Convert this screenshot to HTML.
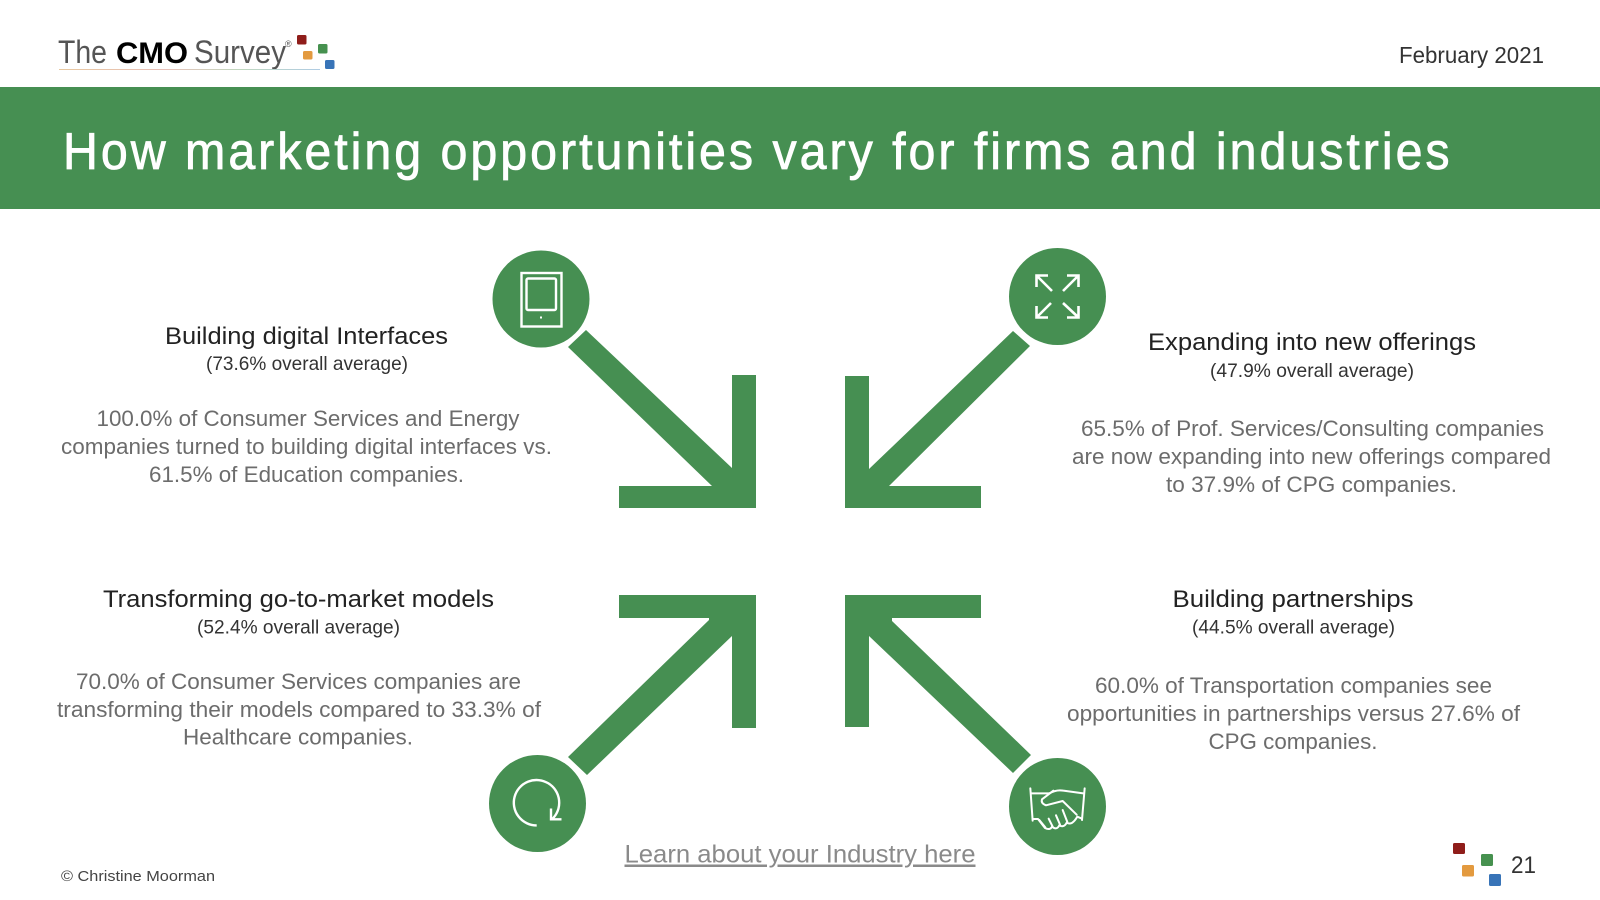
<!DOCTYPE html>
<html lang="en"><head><meta charset="utf-8"><title>How marketing opportunities vary</title>
<style>
html,body{margin:0;padding:0;background:#fff;width:1600px;height:900px;overflow:hidden}
svg{display:block}
text{font-family:"Liberation Sans",sans-serif}
.h{font-size:24px;fill:#222}
.s{font-size:19.5px;fill:#333}
.b{font-size:22px;fill:#6c6c6c}
</style></head><body>
<svg width="1600" height="900" viewBox="0 0 1600 900" xmlns="http://www.w3.org/2000/svg">
<defs><linearGradient id="g" x1="0" x2="1" y1="0" y2="0"><stop offset="0" stop-color="#e8c8a0"/><stop offset=".4" stop-color="#e8c0b8"/><stop offset=".7" stop-color="#c0d8c0"/><stop offset="1" stop-color="#b0cce4"/></linearGradient></defs>
<rect width="1600" height="900" fill="#fff"/>
<!-- logo -->
<text x="58" y="63" font-size="32" fill="#555" textLength="49" lengthAdjust="spacingAndGlyphs">The</text>
<text x="116" y="63" font-size="30" font-weight="700" fill="#000" textLength="72" lengthAdjust="spacingAndGlyphs">CMO</text>
<text x="194" y="63" font-size="32" fill="#555" textLength="92" lengthAdjust="spacingAndGlyphs">Survey</text>
<text x="285" y="47" font-size="9" fill="#555">®</text>
<rect x="59" y="69" width="261" height="1" fill="url(#g)"/>
<rect x="297" y="35" width="9.5" height="9.5" rx="1.5" fill="#8f1d1a"/>
<rect x="318" y="44" width="9.5" height="9.5" rx="1.5" fill="#46914f"/>
<rect x="303" y="51" width="9.5" height="8.5" rx="1.5" fill="#e39a3f"/>
<rect x="325" y="60" width="9.5" height="9" rx="1.5" fill="#3874b8"/>
<text x="1399" y="63" font-size="23" fill="#333" textLength="145" lengthAdjust="spacingAndGlyphs">February 2021</text>
<!-- band -->
<rect x="0" y="87" width="1600" height="122" fill="#468f52"/>
<g transform="translate(63,169) scale(.93,1)"><text x="0" y="0" font-size="52" fill="#fff" stroke="#fff" stroke-width=".8" textLength="1491" lengthAdjust="spacing">How marketing opportunities vary for firms and industries</text></g>
<!-- arrows -->
<g fill="#468f52">
<path d="M586 330L568 347L712 486H619V508H756V375H732V468Z"/>
<path d="M1013 331L1030 346L889 486H981V508H845V376H869V469Z"/>
<path d="M568 757L587 775L732 636V728H756V595H619V618H709V620Z"/>
<path d="M1013 773L1031 755L892 621V618H981V595H845V727H869V636Z"/>
<circle cx="541" cy="299" r="48.5"/>
<circle cx="1057.5" cy="296.5" r="48.5"/>
<circle cx="537.5" cy="803.5" r="48.5"/>
<circle cx="1057.5" cy="806.5" r="48.5"/>
</g>
<!-- tablet -->
<g fill="none" stroke="#fff" stroke-width="2.4">
<rect x="521.5" y="273" width="40" height="53.5"/>
<rect x="526.5" y="278.5" width="29.5" height="31.5" rx="1.5"/>
</g>
<rect x="540" y="316.5" width="2" height="2" fill="#fff"/>
<!-- expand -->
<g fill="none" stroke="#fff" stroke-width="2.6">
<path d="M1037 276L1052 291M1036.5 287V275.5H1048"/>
<path d="M1078 276L1063 291M1078.5 287V275.5H1067"/>
<path d="M1037 317L1051 303M1036.5 306V317.5H1048"/>
<path d="M1078 317L1063 303M1078.5 306V317.5H1067"/>
</g>
<!-- refresh -->
<g fill="none" stroke="#fff" stroke-width="2.4">
<path d="M536.7 825.4A22.7 22.7 0 1 1 552 819.3"/>
<path d="M551 808.5V819.3H561.5"/>
</g>
<!-- handshake -->
<g transform="translate(1020,770) scale(.3333)" fill="none" stroke="#fff" stroke-width="6" stroke-linejoin="round" stroke-linecap="round">
<path d="M31 55L38 152M194 55L186 150"/>
<path d="M35 70H88M38 147H54L75 174Q90 182 96 170Q110 182 118 166Q132 174 140 158Q156 168 172 140L186 146"/>
<path d="M88 70Q110 58 130 62L190 70"/>
<path d="M100 62L66 88Q62 100 78 106L128 93L170 134"/>
<path d="M58 150L76 172M86 146L98 170M108 136L120 164M128 120L142 156"/>
</g>
<!-- top-left text -->
<text class="h" x="165" y="344" textLength="283" lengthAdjust="spacingAndGlyphs">Building digital Interfaces</text>
<text class="s" x="206" y="370" textLength="202" lengthAdjust="spacingAndGlyphs">(73.6% overall average)</text>
<text class="b" x="96.5" y="426" textLength="423" lengthAdjust="spacingAndGlyphs">100.0% of Consumer Services and Energy</text>
<text class="b" x="61" y="454" textLength="491" lengthAdjust="spacingAndGlyphs">companies turned to building digital interfaces vs.</text>
<text class="b" x="149" y="482" textLength="315" lengthAdjust="spacingAndGlyphs">61.5% of Education companies.</text>
<!-- top-right text -->
<text class="h" x="1148" y="350" textLength="328" lengthAdjust="spacingAndGlyphs">Expanding into new offerings</text>
<text class="s" x="1210" y="377" textLength="204" lengthAdjust="spacingAndGlyphs">(47.9% overall average)</text>
<text class="b" x="1081" y="436" textLength="463" lengthAdjust="spacingAndGlyphs">65.5% of Prof. Services/Consulting companies</text>
<text class="b" x="1072" y="464" textLength="479" lengthAdjust="spacingAndGlyphs">are now expanding into new offerings compared</text>
<text class="b" x="1166" y="492" textLength="291" lengthAdjust="spacingAndGlyphs">to 37.9% of CPG companies.</text>
<!-- bottom-left text -->
<text class="h" x="103" y="607" textLength="391" lengthAdjust="spacingAndGlyphs">Transforming go-to-market models</text>
<text class="s" x="197" y="633.5" textLength="203" lengthAdjust="spacingAndGlyphs">(52.4% overall average)</text>
<text class="b" x="76" y="689" textLength="445" lengthAdjust="spacingAndGlyphs">70.0% of Consumer Services companies are</text>
<text class="b" x="57" y="717" textLength="484" lengthAdjust="spacingAndGlyphs">transforming their models compared to 33.3% of</text>
<text class="b" x="183" y="744.5" textLength="230" lengthAdjust="spacingAndGlyphs">Healthcare companies.</text>
<!-- bottom-right text -->
<text class="h" x="1172.5" y="607" textLength="241" lengthAdjust="spacingAndGlyphs">Building partnerships</text>
<text class="s" x="1192" y="633.5" textLength="203" lengthAdjust="spacingAndGlyphs">(44.5% overall average)</text>
<text class="b" x="1095" y="693" textLength="397" lengthAdjust="spacingAndGlyphs">60.0% of Transportation companies see</text>
<text class="b" x="1067" y="721" textLength="453" lengthAdjust="spacingAndGlyphs">opportunities in partnerships versus 27.6% of</text>
<text class="b" x="1208.5" y="749" textLength="169" lengthAdjust="spacingAndGlyphs">CPG companies.</text>
<!-- footer -->
<text x="624.5" y="862.5" font-size="25" fill="#8a8a8a" textLength="351" lengthAdjust="spacingAndGlyphs" text-decoration="underline">Learn about your Industry here</text>
<text x="61" y="881" font-size="15" fill="#444" textLength="154" lengthAdjust="spacingAndGlyphs">© Christine Moorman</text>
<text x="1511" y="873" font-size="24" fill="#333" textLength="25" lengthAdjust="spacingAndGlyphs">21</text>
<rect x="1453" y="843" width="12" height="11" rx="1.5" fill="#8f1d1a"/>
<rect x="1481" y="854" width="12" height="12" rx="1.5" fill="#46914f"/>
<rect x="1462" y="865" width="12" height="11.5" rx="1.5" fill="#e39a3f"/>
<rect x="1489" y="874" width="12" height="12" rx="1.5" fill="#3874b8"/>
</svg>
</body></html>
